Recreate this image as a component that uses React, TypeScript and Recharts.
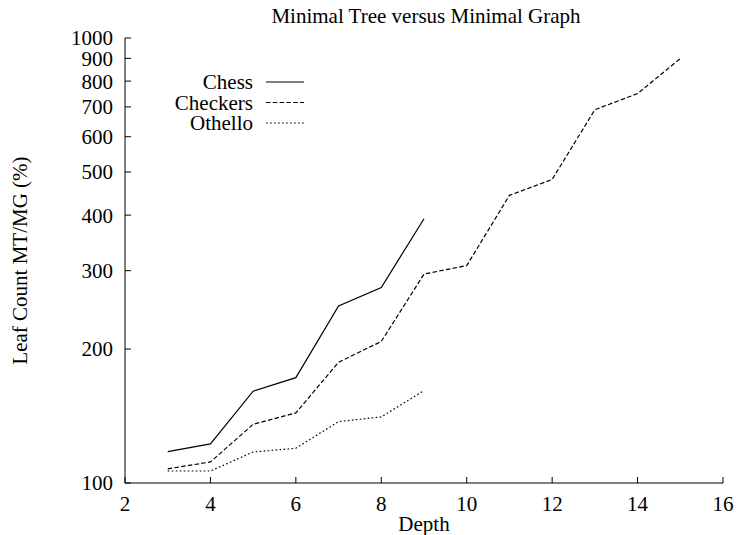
import { LineChart, Line, XAxis, YAxis } from 'recharts'

const depths = [3, 4, 5, 6, 7, 8, 9, 10, 11, 12, 13, 14, 15]
const chess = [117.6, 122.4, 160.8, 172.5, 250, 275, 392.6]
const checkers = [107.6, 111.5, 135.5, 143.7, 186.8, 208, 294.8, 308, 443, 481, 690, 750, 899]
const othello = [106.4, 106.4, 117.4, 119.7, 137.4, 140.8, 161.3]

const xTicks = [2, 4, 6, 8, 10, 12, 14, 16]
const yTicks = [100, 200, 300, 400, 500, 600, 700, 800, 900, 1000]

const seriesNames = ['Chess', 'Checkers', 'Othello']
const dashes = ['', '4.5 2.3', '1.6 2.4']

const data = depths.map((d, i) => ({
  depth: d,
  chess: chess[i] ?? null,
  checkers: checkers[i] ?? null,
  othello: othello[i] ?? null,
}))

const font = 'Liberation Serif, Tinos, DejaVu Serif, serif'
const tickStyle = { fill: '#000', fontSize: 21, fontFamily: font }

export default function App() {
  return (
    <div style={{ position: 'absolute', left: 0, top: 0, width: 736, height: 535, background: '#fff', fontFamily: font }}>
      <LineChart width={736} height={535} data={data} margin={{ top: 38, right: 13, left: 0, bottom: 0 }}>
        <XAxis
          dataKey="depth"
          type="number"
          domain={[2, 16]}
          ticks={xTicks}
          interval={0}
          tick={tickStyle}
          tickSize={-6}
          tickMargin={19}
          height={52}
          axisLine={{ stroke: '#000' }}
          tickLine={{ stroke: '#000' }}
          label={{ value: 'Depth', position: 'insideBottom', offset: 4, fill: '#000', fontSize: 21, fontFamily: font }}
        />
        <XAxis
          xAxisId="top"
          dataKey="depth"
          type="number"
          orientation="top"
          domain={[2, 16]}
          ticks={xTicks}
          interval={0}
          tick={false}
          tickSize={-6}
          height={0}
          axisLine={{ stroke: '#000' }}
          tickLine={{ stroke: '#000' }}
        />
        <YAxis
          scale="log"
          domain={[100, 1000]}
          ticks={yTicks}
          interval={0}
          allowDataOverflow
          width={125}
          tick={tickStyle}
          tickSize={-6}
          tickMargin={18}
          axisLine={{ stroke: '#000' }}
          tickLine={{ stroke: '#000' }}
          label={{
            content: ({ viewBox }: any) => {
              const cx = 20
              const cy = viewBox.y + viewBox.height / 2
              return (
                <text x={cx} y={cy} transform={`rotate(-90 ${cx} ${cy})`} textAnchor="middle" dominantBaseline="central" fill="#000" fontSize={21} fontFamily={font}>
                  Leaf Count MT/MG (%)
                </text>
              )
            },
          }}
        />
        <YAxis
          yAxisId="right"
          orientation="right"
          scale="log"
          domain={[100, 1000]}
          ticks={yTicks}
          interval={0}
          allowDataOverflow
          width={0}
          tick={false}
          tickSize={-6}
          axisLine={{ stroke: '#000' }}
          tickLine={{ stroke: '#000' }}
        />
        <Line dataKey="chess" stroke="#000" strokeWidth={1.2} dot={false} isAnimationActive={false} />
        <Line dataKey="checkers" stroke="#000" strokeWidth={1.2} strokeDasharray={dashes[1]} dot={false} isAnimationActive={false} />
        <Line dataKey="othello" stroke="#000" strokeWidth={1.2} strokeDasharray={dashes[2]} dot={false} isAnimationActive={false} />
      </LineChart>
      <svg width={736} height={535} style={{ position: 'absolute', left: 0, top: 0, pointerEvents: 'none' }}>
        <text x={426} y={23} textAnchor="middle" fill="#000" fontSize={21} fontFamily={font}>
          Minimal Tree versus Minimal Graph
        </text>
        {seriesNames.map((name, i) => (
          <g key={name}>
            <text x={253} y={82 + i * 20.5} textAnchor="end" dominantBaseline="central" fill="#000" fontSize={21} fontFamily={font}>
              {name}
            </text>
            <line x1={266} x2={304} y1={82 + i * 20.5} y2={82 + i * 20.5} stroke="#000" strokeWidth={1.2} strokeDasharray={dashes[i]} />
          </g>
        ))}
      </svg>
    </div>
  )
}
